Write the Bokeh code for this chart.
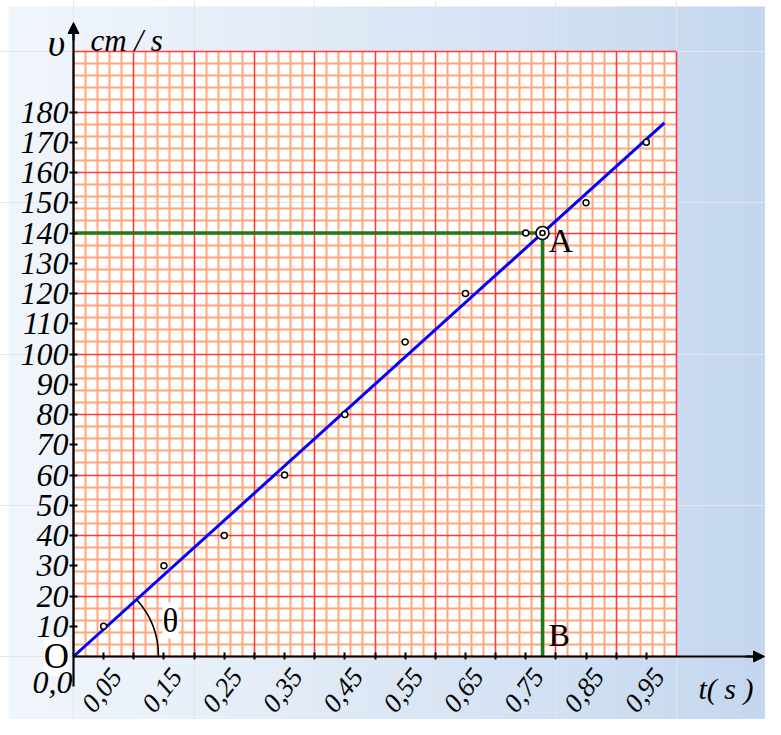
import math
import numpy as np
from bokeh.plotting import figure
from bokeh.models import (Range1d, LinearAxis, FixedTicker, CustomJSTickFormatter,
                          Grid, Arrow, NormalHead)
from bokeh.core.properties import value
from bokeh.embed import file_html
from bokeh.resources import INLINE

# ---------------- data ----------------
t_points = [0.05, 0.15, 0.25, 0.35, 0.45, 0.55, 0.65, 0.75, 0.85, 0.95]
v_points = [10, 30, 40, 60, 80, 104, 120, 140, 150, 170]
slope = 180.0                      # cm/s per s (fitted line)
fit_t = [0.0, 0.98]
fit_v = [slope * t for t in fit_t]
A_v = 140.0
A_t = A_v / slope
x_label_ticks = [0.05, 0.15, 0.25, 0.35, 0.45, 0.55, 0.65, 0.75, 0.85, 0.95]
x_all_ticks = [0.05, 0.10, 0.15, 0.20, 0.25, 0.30, 0.35, 0.40, 0.45, 0.50,
               0.55, 0.60, 0.65, 0.70, 0.75, 0.80, 0.85, 0.90, 0.95]
y_ticks = [10, 20, 30, 40, 50, 60, 70, 80, 90, 100, 110, 120, 130, 140, 150, 160, 170, 180]
T_GRID = 1.0
V_GRID = 200.0

# ---------------- layout ----------------
W, H = 765, 719
OX, OY = 73.0, 656.0          # origin in figure pixels
PXT, PXV = 603.0, 3.025       # pixels per unit


def fx(px):
    return (px - OX) / PXT


def fy(py):
    return (OY - py) / PXV


x0, x1 = fx(0), fx(W)
y0, y1 = fy(H), fy(0)

p = figure(width=W, height=H, x_range=Range1d(x0, x1), y_range=Range1d(y0, y1),
           x_axis_location=None, y_axis_location=None, toolbar_location=None,
           output_backend="svg", min_border=0, outline_line_color=None,
           background_fill_color="white", border_fill_color="white")

# gradient background
N = 300
img = np.empty((2, N), dtype=np.uint32)
view = img.view(dtype=np.uint8).reshape((2, N, 4))
left = np.array([241, 246, 252], dtype=float)
right = np.array([196, 215, 239], dtype=float)
fr = (np.arange(N) / (N - 1)) ** 1.15
for k in range(3):
    view[:, :, k] = (left[k] + (right[k] - left[k]) * fr).astype(np.uint8)
view[:, :, 3] = 255
gx0, gy1 = fx(8), fy(6)
p.image_rgba(image=[img], x=gx0, y=y0, dw=x1 - gx0, dh=gy1 - y0, level="image")

# graph paper
p.quad(left=0, right=T_GRID, bottom=0, top=V_GRID, fill_color="white",
       line_color=None, level="image")

x_major = [round(0.1 * i, 2) for i in range(11)]
x_minor = [round(0.02 * i, 2) for i in range(51) if i % 5 != 0]
y_major = [20 * i for i in range(11)]
y_minor = [4 * i for i in range(51) if i % 5 != 0]

MINOR_C, MAJOR_C = "#ffa67b", "#ff3a3a"
for ticks, dim, col, w in [(x_minor, 0, MINOR_C, 2.0), (y_minor, 1, MINOR_C, 2.0),
                           (x_major, 0, MAJOR_C, 1.6), (y_major, 1, MAJOR_C, 1.6)]:
    g = Grid(dimension=dim, ticker=FixedTicker(ticks=ticks),
             bounds=(0, T_GRID) if dim == 0 else (0, V_GRID),
             cross_bounds=(0, V_GRID) if dim == 0 else (0, T_GRID),
             grid_line_color=col, grid_line_width=w, minor_grid_line_color=None)
    p.add_layout(g)

# guide lines to A
p.line([0, A_t, A_t], [A_v, A_v, 0], line_color="#207a1c", line_width=3.5)
# fitted line
p.line(fit_t, fit_v, line_color="#0000ff", line_width=3)
# angle arc
ang = math.atan2(slope * PXV, PXT)
p.arc(x=0, y=0, radius=85, radius_units="screen", start_angle=0, end_angle=ang,
      line_color="black", line_width=1.6)
# measured points
p.scatter(t_points, v_points, marker="circle", size=6, fill_color="white",
          line_color="black", line_width=1.5)
# point A
p.scatter([A_t], [A_v], marker="circle", size=13, fill_color="white",
          line_color="black", line_width=1.6)
p.scatter([A_t], [A_v], marker="circle", size=5, fill_color="white",
          line_color="black", line_width=1.6)

FONT = "Liberation Serif"

# y axis
yax = LinearAxis(fixed_location=0, bounds=(fy(686), fy(33)),
                 ticker=FixedTicker(ticks=y_ticks),
                 axis_line_width=2.2, axis_line_color="black",
                 major_tick_in=4, major_tick_out=4, major_tick_line_width=2,
                 minor_tick_line_color=None,
                 major_label_text_font=FONT, major_label_text_font_style="italic",
                 major_label_text_font_size="32px", major_label_text_color="black",
                 major_label_standoff=1)
p.add_layout(yax, "left")

# x axis (line + ticks)
xax = LinearAxis(fixed_location=0, bounds=(0, fx(754)),
                 ticker=FixedTicker(ticks=[], minor_ticks=x_all_ticks),
                 axis_line_width=2.2, axis_line_color="black",
                 minor_tick_in=4, minor_tick_out=3, minor_tick_line_width=2,
                 minor_tick_line_color="black", major_tick_line_color=None)
p.add_layout(xax, "below")

# x axis labels (rotated, shifted so they centre under their ticks)
ROT = math.radians(52)
XLAB_SIZE = 27
L = 1.75 * XLAB_SIZE
shift = ((L / 2) * math.cos(ROT) - 2) / PXT
p.extra_x_ranges = {"lab": Range1d(x0 - shift, x1 - shift)}
lab = LinearAxis(x_range_name="lab", fixed_location=0,
                 ticker=FixedTicker(ticks=x_label_ticks),
                 formatter=CustomJSTickFormatter(code="return tick.toFixed(2).replace('.', ',');"),
                 axis_line_color=None, major_tick_line_color=None, minor_tick_line_color=None,
                 major_tick_out=0, minor_tick_out=0, major_tick_in=0, minor_tick_in=0,
                 major_label_orientation=ROT,
                 major_label_text_font=FONT, major_label_text_font_style="italic",
                 major_label_text_font_size=f"{XLAB_SIZE}px", major_label_text_color="black",
                 major_label_standoff=15)
p.add_layout(lab, "below")

# arrow heads
p.add_layout(Arrow(end=NormalHead(size=11, fill_color="black", line_color="black"),
                   x_start=0, y_start=fy(40), x_end=0, y_end=fy(22),
                   line_color="black", line_width=2.2))
p.add_layout(Arrow(end=NormalHead(size=11, fill_color="black", line_color="black"),
                   x_start=fx(745), y_start=0, x_end=fx(764), y_end=0,
                   line_color="black", line_width=2.2))

# texts
def txt(x, y, s, size, style="normal", align="left", xo=0, yo=0, bg=None):
    kw = {}
    if bg:
        kw["background_fill_color"] = bg
    p.text(x=[x], y=[y], text=[s], text_font=value(FONT), text_font_style=style,
           text_font_size=size, text_align=align, text_baseline="middle",
           x_offset=xo, y_offset=yo, text_color="black", **kw)

txt(fx(56), fy(42), "υ", "38px", "italic", "center")
txt(fx(90), fy(40), "cm / s", "31px", "italic", "left")
txt(fx(698), fy(688), "t( s )", "30px", "italic", "left")
txt(A_t, A_v, "A", "34px", "normal", "left", xo=6, yo=7)
txt(A_t, 0, "B", "32px", "normal", "left", xo=6, yo=-22)
txt(0, 0, "O", "35px", "normal", "center", xo=-17, yo=0, bg="white")
txt(0, 0, "0,0", "32px", "italic", "right", xo=-1, yo=26)
txt(0, 0, "θ", "33px", "normal", "center", xo=97, yo=-36, bg="white")

open("out.html", "w").write(file_html(p, INLINE))
